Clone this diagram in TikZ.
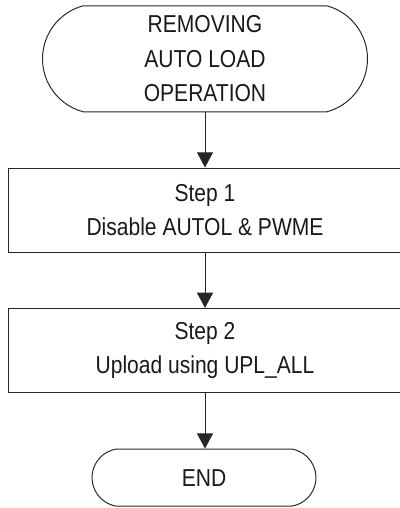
\documentclass[tikz,border=0pt]{standalone}
\usepackage{fontspec}
\setmainfont{Liberation Sans}[FakeStretch=0.86]
\usetikzlibrary{shapes.misc,arrows.meta}

\begin{document}
\begin{tikzpicture}[
    terminal/.style={draw, rounded rectangle, rounded rectangle arc length=150, align=center, inner sep=0pt},
    stepbox/.style={draw, rectangle, align=center, inner sep=0pt, minimum width=9.85cm, minimum height=2.1cm},
    flow/.style={-{Triangle[width=0.4cm,length=0.38cm]}}]
  \useasboundingbox (0,0) rectangle (9.975,-12.7);
  \tikzset{every node/.append style={font=\fontsize{17.4}{24.5}\selectfont, text=black!90}}
  \tikzset{every path/.append style={line width=0.7pt, draw=black!85}}

  \node[terminal, minimum width=8.125cm, minimum height=2.65cm] (start) at (5.125,-1.47) {REMOVING\\AUTO LOAD\\OPERATION};
  \node[stepbox] (stepone) at (5.125,-5.25) {Step 1\\Disable AUTOL \& PWME};
  \node[stepbox] (steptwo) at (5.125,-8.76) {Step 2\\Upload using UPL\_ALL};
  \node[terminal, rounded rectangle arc length=160, minimum width=5.6cm, minimum height=1.425cm] (finish) at (5.1,-11.94) {END};

  \draw[flow] (start.south) -- (stepone.north);
  \draw[flow] (stepone.south) -- (steptwo.north);
  \draw[flow] (steptwo.south) -- (finish.north -| steptwo.south);
\end{tikzpicture}
\end{document}
